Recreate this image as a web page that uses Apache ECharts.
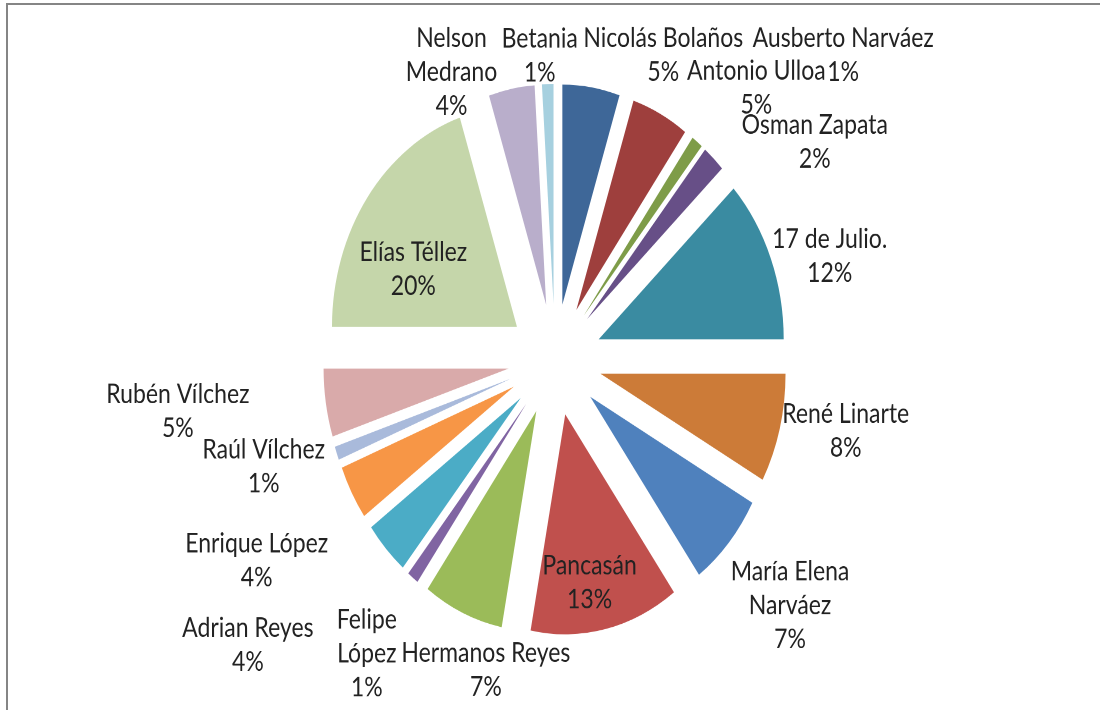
<!doctype html>
<html lang="es">
<head>
    <meta charset="UTF-8">
    <title>Pastel</title>
    <style>
        html, body { margin: 0; padding: 0; background: #fff; overflow: hidden; }
        #frame { position: absolute; left: 6px; top: 3px; width: 1200px; height: 800px;
                 border-left: 2px solid #858585; border-top: 2px solid #858585; }
        /* the original picture is stretched vertically, so the chart is drawn flat and scaled */
        #myChart { position: absolute; left: 0; top: 0; width: 1100px; height: 597px;
                   transform: scaleY(1.1893); transform-origin: 0 0; }
    </style>
</head>
<body>
<div id="frame"></div>
<div id="myChart"></div>
<script src="https://cdn.jsdelivr.net/npm/echarts@6/dist/echarts.min.js"></script>
<script>
    var categories = ['Nicolás Bolaños', 'Antonio Ulloa', 'Ausberto Narváez', 'Osman Zapata', '17 de Julio.',
        'René Linarte', 'María Elena Narváez', 'Pancasán', 'Hermanos Reyes', 'Felipe López', 'Adrian Reyes',
        'Enrique López', 'Raúl Vílchez', 'Rubén Vílchez', 'Elías Téllez', 'Nelson Medrano', 'Betania'];
    var shares = [5, 5, 1, 2, 12, 8, 7, 13, 7, 1, 4, 4, 1, 5, 20, 4, 1];

    var sliceColors = ['#3e6798', '#9e3f3d', '#7e9c48', '#674f87', '#3a8ba1', '#cc7b38', '#4f81bd', '#c0504d',
        '#9bbb59', '#8064a2', '#4bacc6', '#f79646', '#a9badb', '#d9aaaa', '#c5d6aa', '#b9aecb', '#a6d0df'];

    // Excel wrapped these labels
    var wrapped = {
        'Nelson Medrano': 'Nelson\nMedrano',
        'María Elena Narváez': 'María Elena\nNarváez',
        'Felipe López': 'Felipe\nLópez'
    };
    // label centre measured from the outer corner of its (pulled out) slice, like Excel placed them
    var labelShift = [[72, -27], [96, -22], [146, -73], [101, -14], [59, -2], [66, 2], [61, 53], [-16, -39],
        [23, 48], [-46, 64], [-138, 81], [-95, 57], [-73, 11], [-148, 7], [46, 60], [-60, -14], [-8, -24]];

    var CX = 555, CY = 302.5, R = 185, OFF = 47;

    var total = shares.reduce(function (a, b) { return a + b; }, 0);
    var midAngle = [];
    var acc = 0;
    for (var i = 0; i < shares.length; i++) {
        midAngle.push((acc + shares[i] / 2) / total * 360);
        acc += shares[i];
    }

    function labelPoint(k) {
        var a = midAngle[k] * Math.PI / 180;
        return [CX + (R + OFF) * Math.sin(a) + labelShift[k][0],
                CY - (R + OFF) * Math.cos(a) + labelShift[k][1]];
    }

    // labelLayout did not take here, so the data labels go in as graphic texts
    var labels = categories.map(function (name, k) {
        var pt = labelPoint(k);
        return {
            type: 'text',
            x: pt[0],
            y: pt[1],
            z: 10,
            style: {
                text: (wrapped[name] || name) + '\n' + Math.round(shares[k] / total * 100) + '%',
                fontFamily: 'Lato',
                fontSize: 23,
                lineHeight: 28.5,
                fill: '#222',
                align: 'center',
                verticalAlign: 'middle'
            }
        };
    });

    var myChart = echarts.init(document.getElementById('myChart'), null, {devicePixelRatio: 2});

    var option = {
        animation: false,
        graphic: labels,
        series: [{
            type: 'pie',
            center: [CX, CY],
            radius: R,
            startAngle: 90,
            clockwise: true,
            selectedMode: 'multiple',
            selectedOffset: OFF,
            emphasis: {disabled: true},
            itemStyle: {borderWidth: 0},
            label: {show: false},
            labelLine: {show: false},
            data: categories.map(function (name, k) {
                return {name: name, value: shares[k], selected: true, itemStyle: {color: sliceColors[k]}};
            })
        }]
    };

    myChart.setOption(option);
</script>
</body>
</html>
